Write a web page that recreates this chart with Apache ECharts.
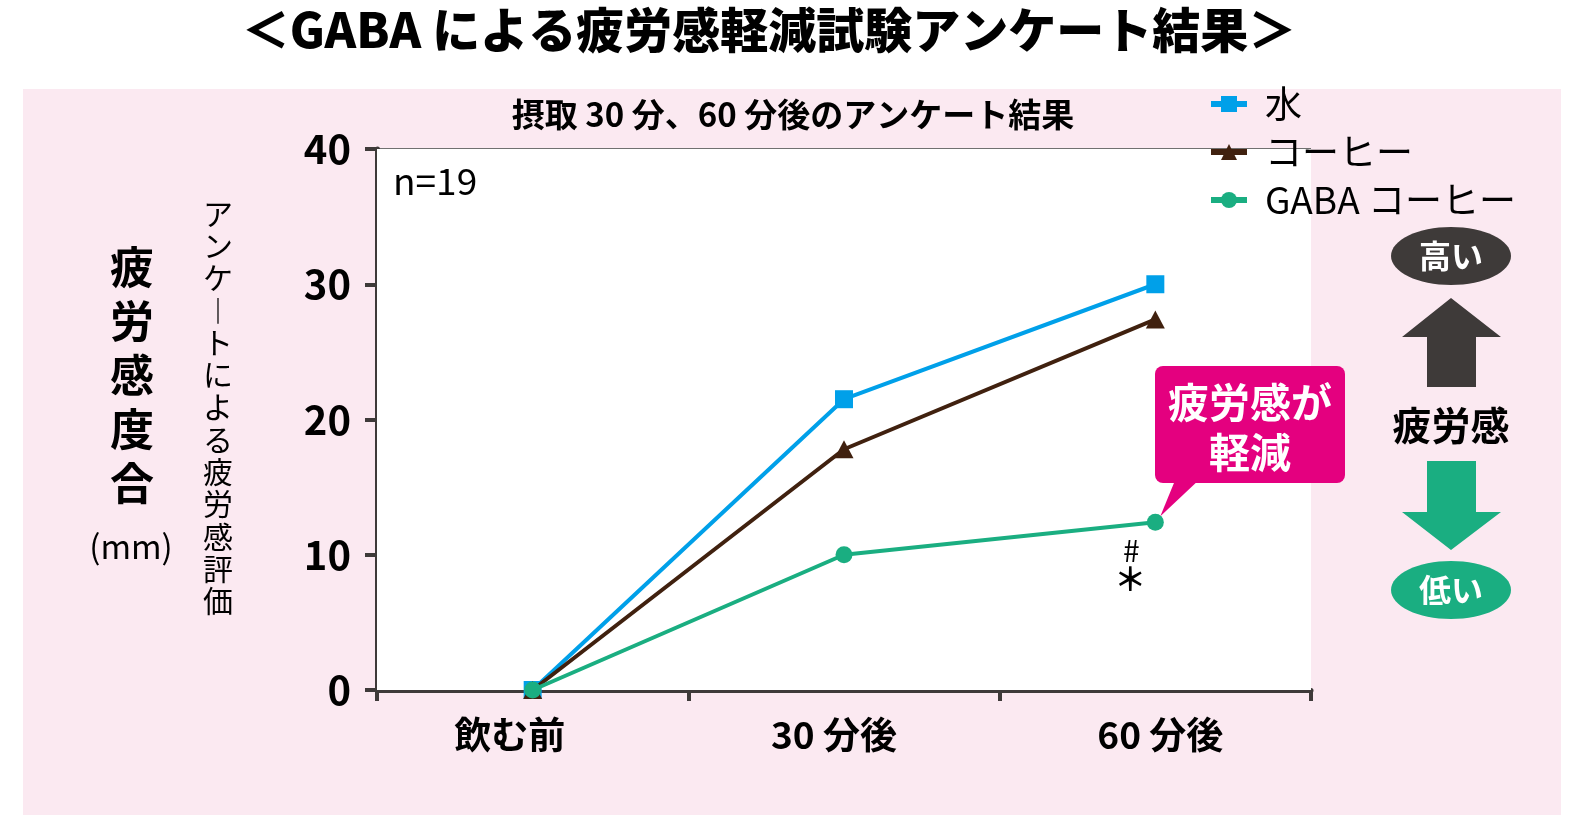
<!DOCTYPE html>
<html>
<head>
<meta charset="utf-8">
<script src="https://cdn.jsdelivr.net/npm/echarts@6/dist/echarts.min.js"></script>
<style>
html,body{margin:0;padding:0;background:#fff;}
#c{width:1585px;height:818px;}
</style>
</head>
<body>
<div id="c"></div>
<script>
// ---- data ----
const categories = ['飲む前', '30 分後', '60 分後'];
const seriesNames = ['水', 'コーヒー', 'GABA コーヒー'];
const water = [0, 21.5, 30.0];
const coffee = [0, 17.8, 27.4];
const gaba = [0, 10.0, 12.4];
const yMin = 0, yMax = 40, yInterval = 10;

const FONT = '"Noto Sans CJK JP", "Noto Sans", sans-serif';
const BLUE = '#00a0e9', BROWN = '#40210f', GREEN = '#1aae81';
const DARK = '#3e3a39', MAGENTA = '#e4007f', PINK = '#fbe9f1';

// per-label horizontal nudges (layout only)
const labelPads = [[0, 46, 0, 0], [0, 20, 0, 0], [0, 0, 0, 10]];

const chart = echarts.init(document.getElementById('c'), null, {renderer: 'canvas'});

chart.setOption({
  animation: false,
  backgroundColor: '#ffffff',
  textStyle: {fontFamily: FONT},
  grid: {left: 377, top: 149, width: 934, height: 541, show: true, backgroundColor: '#ffffff', borderWidth: 0, z: 1},
  legend: {
    orient: 'vertical', left: 1203, top: 80, itemWidth: 36, itemHeight: 20, itemGap: 10,
    data: seriesNames,
    lineStyle: {width: 6},
    textStyle: {fontFamily: FONT, fontSize: 37, color: '#000', lineHeight: 38, padding: [0,0,0,13]}
  },
  xAxis: {
    type: 'category', boundaryGap: true,
    data: categories.map((c, i) => ({value: c, textStyle: {padding: labelPads[i]}})),
    axisLine: {show: true, lineStyle: {color: DARK, width: 5}},
    axisTick: {show: true, length: 11, lineStyle: {color: DARK, width: 4}},
    axisLabel: {fontFamily: FONT, fontSize: 37, fontWeight: 'bold', color: '#000', margin: 26},
    splitLine: {show: false}
  },
  yAxis: {
    type: 'value', min: yMin, max: yMax, interval: yInterval,
    axisLine: {show: true, lineStyle: {color: DARK, width: 5}},
    axisTick: {show: true, length: 12, lineStyle: {color: DARK, width: 4}},
    axisLabel: {fontFamily: FONT, fontSize: 40, fontWeight: 'bold', color: '#000', margin: 26},
    splitLine: {show: true, lineStyle: {color: '#707070', width: 2}}
  },
  series: [
    {name: seriesNames[0], type: 'line', data: water, symbol: 'rect', symbolSize: 18,
     lineStyle: {color: BLUE, width: 4}, itemStyle: {color: BLUE}, z: 3},
    {name: seriesNames[1], type: 'line', data: coffee, symbol: 'triangle', symbolSize: [19, 18],
     lineStyle: {color: BROWN, width: 4}, itemStyle: {color: BROWN}, z: 4},
    {name: seriesNames[2], type: 'line', data: gaba, symbol: 'circle', symbolSize: 17,
     lineStyle: {color: GREEN, width: 4}, itemStyle: {color: GREEN}, z: 5}
  ]
});

const p = chart.convertToPixel({xAxisIndex: 0, yAxisIndex: 0}, [2, gaba[2]]);

function vtext(s) { return s.split('').join('\n'); }

chart.setOption({
  graphic: {elements: [
    {type: 'rect', z: -100, silent: true, shape: {x: 23, y: 89, width: 1538, height: 726}, style: {fill: PINK}},
    {type: 'text', x: 769, y: 30, style: {text: '＜GABA による疲労感軽減試験アンケート結果＞', fontFamily: FONT, fontSize: 48, fontWeight: 900, fill: '#000', textAlign: 'center', textVerticalAlign: 'middle'}},
    {type: 'text', x: 793, y: 114, style: {text: '摂取 30 分、60 分後のアンケート結果', fontFamily: FONT, fontSize: 33, fontWeight: 'bold', fill: '#000', textAlign: 'center', textVerticalAlign: 'middle'}},
    {type: 'text', x: 393, y: 181, z: 10, style: {text: 'n=19', fontFamily: FONT, fontSize: 37, fill: '#000', textAlign: 'left', textVerticalAlign: 'middle'}},
    {type: 'text', x: 132, y: 375, style: {text: vtext('疲労感度合'), fontFamily: FONT, fontSize: 44, fontWeight: 'bold', lineHeight: 54, fill: '#000', textAlign: 'center', textVerticalAlign: 'middle'}},
    {type: 'text', x: 131, y: 546, style: {text: '(mm)', fontFamily: FONT, fontSize: 33, fill: '#000', textAlign: 'center', textVerticalAlign: 'middle'}},
    {type: 'text', x: 218, y: 407, style: {text: vtext('アンケ︱トによる疲労感評価'), fontFamily: FONT, fontSize: 30, lineHeight: 32.3, fill: '#000', textAlign: 'center', textVerticalAlign: 'middle'}},
    // right side indicator
    {type: 'ellipse', shape: {cx: 1451, cy: 256, rx: 60, ry: 29}, style: {fill: DARK}},
    {type: 'text', x: 1451, y: 256, style: {text: '高い', fontFamily: FONT, fontSize: 32, fontWeight: 'bold', fill: '#fff', textAlign: 'center', textVerticalAlign: 'middle'}},
    {type: 'polygon', shape: {points: [[1451,298],[1501,337],[1476,337],[1476,387],[1427,387],[1427,337],[1402,337]]}, style: {fill: DARK}},
    {type: 'text', x: 1451, y: 425, style: {text: '疲労感', fontFamily: FONT, fontSize: 39, fontWeight: 'bold', fill: '#000', textAlign: 'center', textVerticalAlign: 'middle'}},
    {type: 'polygon', shape: {points: [[1427,461],[1476,461],[1476,512],[1501,512],[1451,550],[1402,512],[1427,512]]}, style: {fill: GREEN}},
    {type: 'ellipse', shape: {cx: 1451, cy: 590, rx: 60, ry: 29}, style: {fill: GREEN}},
    {type: 'text', x: 1451, y: 590, style: {text: '低い', fontFamily: FONT, fontSize: 32, fontWeight: 'bold', fill: '#fff', textAlign: 'center', textVerticalAlign: 'middle'}},
    // callout
    {type: 'polygon', z: 20, shape: {points: [[1176,478],[1201,478],[p[0] + 5, p[1] - 6]]}, style: {fill: MAGENTA}},
    {type: 'rect', z: 20, shape: {x: 1155, y: 366, width: 190, height: 117, r: 8}, style: {fill: MAGENTA}},
    {type: 'text', z: 21, x: 1250, y: 427, style: {text: '疲労感が\n軽減', fontFamily: FONT, fontSize: 41, fontWeight: 'bold', lineHeight: 50, fill: '#fff', textAlign: 'center', textVerticalAlign: 'middle'}},
    // significance marks
    {type: 'text', z: 10, x: p[0] - 24, y: p[1] + 28, style: {text: '#', fontFamily: FONT, fontSize: 30, fill: '#000', textAlign: 'center', textVerticalAlign: 'middle', backgroundColor: '#fff'}},
    {type: 'text', z: 10, x: p[0] - 25, y: p[1] + 57, style: {text: '＊', fontFamily: FONT, fontSize: 32, fontWeight: 'bold', fill: '#000', textAlign: 'center', textVerticalAlign: 'middle'}}
  ]}
});
</script>
</body>
</html>
